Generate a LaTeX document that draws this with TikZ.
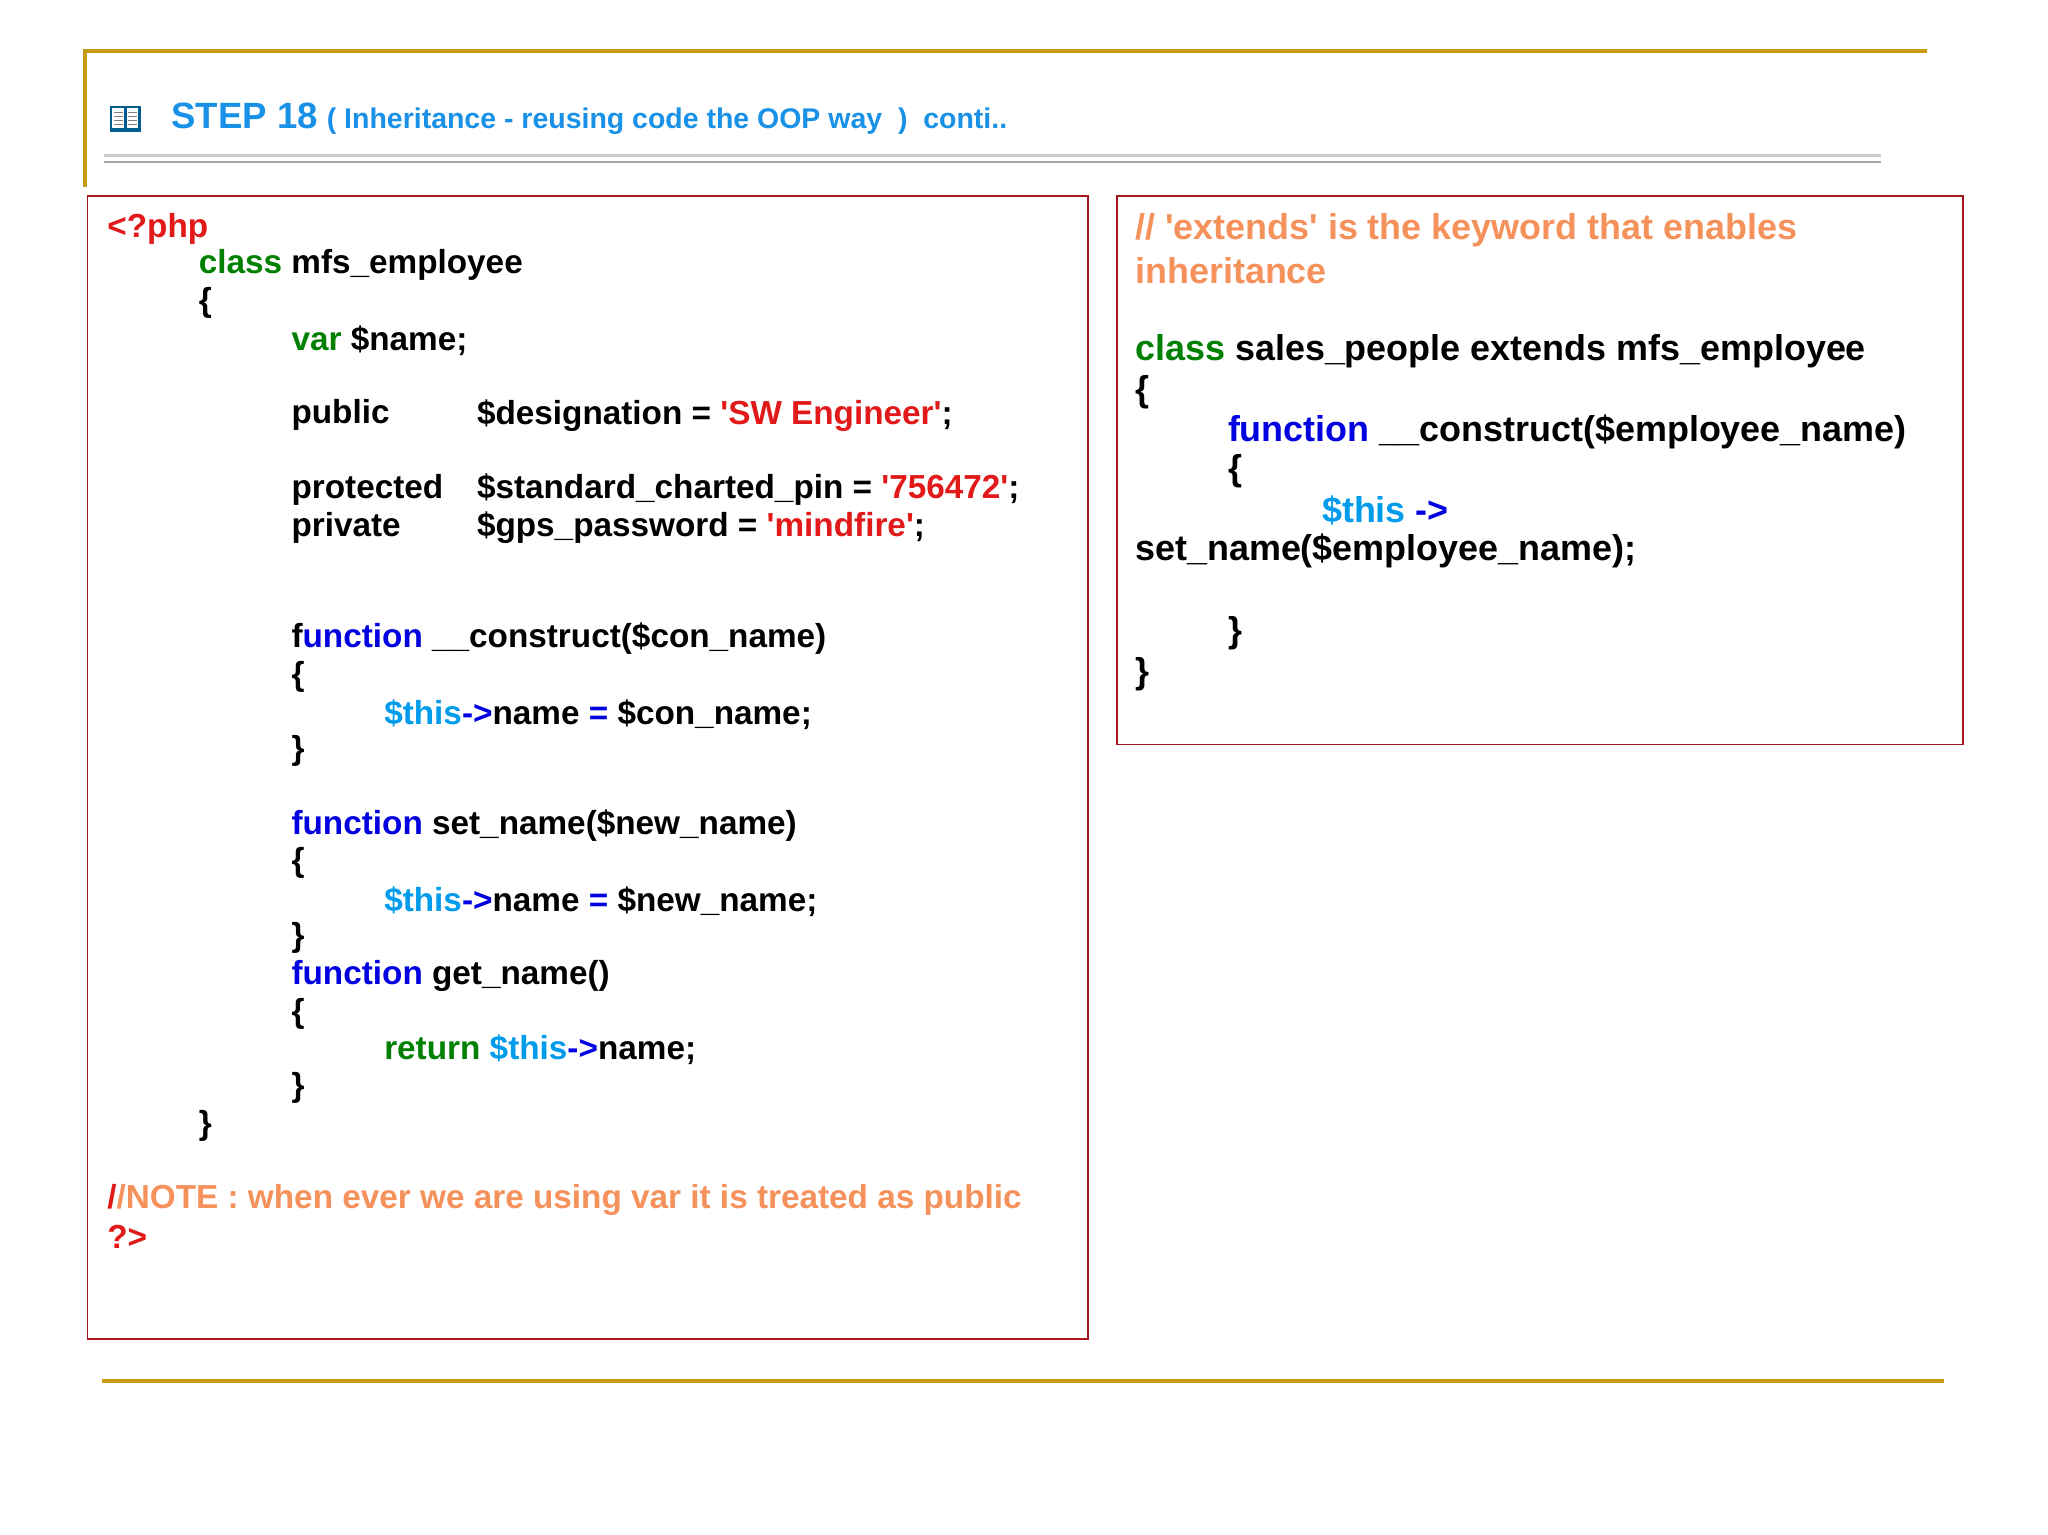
\documentclass[tikz,border=0pt]{standalone}
\usepackage{fontspec}
\setmainfont{Liberation Sans}[Ligatures=TeXOff]
\definecolor{gold}{RGB}{200,155,20}
\definecolor{boxred}{RGB}{170,20,30}
\definecolor{kgreen}{RGB}{0,128,0}
\definecolor{kblue}{RGB}{0,0,225}
\definecolor{kcyan}{RGB}{0,155,235}
\definecolor{kred}{RGB}{225,25,25}
\definecolor{korange}{RGB}{245,145,90}
\definecolor{hblue}{RGB}{25,145,230}
\newcommand{\G}[1]{\textcolor{kgreen}{#1}}
\newcommand{\B}[1]{\textcolor{kblue}{#1}}
\newcommand{\C}[1]{\textcolor{kcyan}{#1}}
\newcommand{\R}[1]{\textcolor{kred}{#1}}
\begin{document}
\begin{tikzpicture}[x=1pt,y=-1pt,
  code/.style={anchor=west,inner sep=0pt,font=\fontsize{25.5}{28}\selectfont\bfseries},
  rcode/.style={anchor=west,inner sep=0pt,font=\fontsize{27.5}{30}\selectfont\bfseries},
  box/.style={draw=boxred,line width=1.3pt}]
\useasboundingbox (0,0) rectangle (1568,1175);
% frame lines
\draw[gold,line width=2.5pt] (65,143) -- (65,39) -- (1475,39);
\draw[gold,line width=3pt] (78,1057) -- (1488,1057);
\draw[gray!40,line width=2pt] (80,119) -- (1440,119);
\draw[gray!70,line width=1.5pt] (80,124) -- (1440,124);
% icon
\fill[kcyan!60!black] (84,81) rectangle (108,101);
\fill[white] (86,83) rectangle (95,98);
\fill[white] (97,83) rectangle (106,98);
\foreach \yy in {86,89,92,95}{\draw[gray,line width=0.6pt] (87,\yy)--(94,\yy) (98,\yy)--(105,\yy);}
\node[anchor=west,inner sep=0pt,text=hblue,font=\bfseries] (title) at (131,91)
  {{\fontsize{28}{30}\selectfont STEP 18}\hspace{7pt}{\fontsize{21.8}{24}\selectfont( Inheritance - reusing code the OOP way~~)~~conti..}};
% boxes
\draw[box] (67,150) rectangle (833,1025);
\draw[box] (855,150) rectangle (1503,570);
% left code
\begin{scope}[yshift=-2pt]
\node[code] (l1) at (82,173) {\R{<?php}};
\node[code] (l2) at (152,201) {\G{class} mfs\_employee};
\node[code] (l3) at (152,230) {\{};
\node[code] (l4) at (223,259) {\G{var} \$name;};
\node[code] (l5) at (223,316) {public};
\node[code] (l5b) at (365,316) {\$designation = \R{'SW Engineer'};};
\node[code] (l6) at (223,373) {protected};
\node[code] (l6b) at (365,373) {\$standard\_charted\_pin = \R{'756472'};};
\node[code] (l7) at (223,402) {private};
\node[code] (l7b) at (365,402) {\$gps\_password = \R{'mindfire'};};
\node[code] (l8) at (223,487) {f\B{unction} \_\_construct(\$con\_name)};
\node[code] (l9) at (223,516) {\{};
\node[code] (l10) at (294,545) {\C{\$this}\B{->}name \B{=} \$con\_name;};
\node[code] (l11) at (223,573) {\}};
\node[code] (l12) at (223,630) {\B{function} set\_name(\$new\_name)};
\node[code] (l13) at (223,659) {\{};
\node[code] (l14) at (294,688) {\C{\$this}\B{->}name \B{=} \$new\_name;};
\node[code] (l15) at (223,716) {\}};
\node[code] (l16) at (223,745) {\B{function} get\_name()};
\node[code] (l17) at (223,774) {\{};
\node[code] (l18) at (294,802) {\G{return} \C{\$this}\B{->}name;};
\node[code] (l19) at (223,831) {\}};
\node[code] (l20) at (152,860) {\}};
\node[code] (l21) at (82,917) {\R{/}\textcolor{korange}{/NOTE : when ever we are using var it is treated as public}};
\node[code] (l22) at (82,945) {\R{?>}};
% right code
\node[rcode,text=korange] (r1) at (869,174) {// 'extends' is the keyword that enables};
\node[rcode,text=korange] (r2) at (869,205) {inheritance};
\node[rcode] (r3) at (869,267) {\G{class} sales\_people extends mfs\_employee};
\node[rcode] (r4) at (869,298) {\{};
\node[rcode] (r5) at (940,329) {\B{function} \_\_construct(\$employee\_name)};
\node[rcode] (r6) at (940,359) {\{};
\node[rcode] (r7) at (1012,389) {\C{\$this} \B{->}};
\node[rcode] (r8) at (869,420) {set\_name(\$employee\_name);};
\node[rcode] (r9) at (940,483) {\}};
\node[rcode] (r10) at (869,514) {\}};
\end{scope}
\end{tikzpicture}
\end{document}
